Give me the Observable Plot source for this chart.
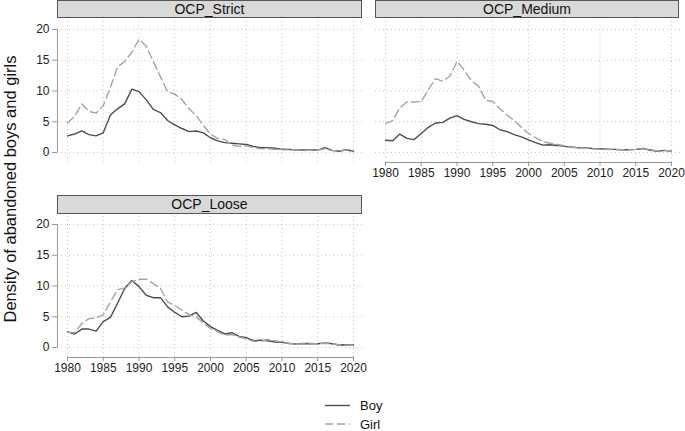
<!DOCTYPE html>
<html>
<head>
<meta charset="utf-8">
<script src="https://cdn.jsdelivr.net/npm/d3@7"></script>
<script src="https://cdn.jsdelivr.net/npm/@observablehq/plot@0.6"></script>
<style>
  html, body { margin: 0; padding: 0; background: #fff; }
  #wrap { position: relative; width: 685px; height: 431px; font-family: "Liberation Sans", Arial, sans-serif; overflow: hidden; }
  .strip { position: absolute; box-sizing: border-box; background: #d9d9d9; border: 1px solid #555; font-size: 14px; color: #111; text-align: center; line-height: 16px; }
  .panel { position: absolute; }
  #ylab { position: absolute; left: 10px; top: 189px; transform: translate(-50%, -50%) rotate(-90deg); white-space: nowrap; font-size: 16.5px; color: #111; }
  #legend { position: absolute; left: 320px; top: 396px; }
</style>
</head>
<body>
<div id="wrap">
  <div id="ylab">Density of abandoned boys and girls</div>
</div>
<script>
const years = d3.range(1980, 2021);
const xTicks = [1980, 1985, 1990, 1995, 2000, 2005, 2010, 2015, 2020];
const yTicks = [0, 5, 10, 15, 20];
const panelNames = ["OCP_Strict", "OCP_Medium", "OCP_Loose"];
const seriesNames = ["Boy", "Girl"];

const strictBoy = [2.7, 3.0, 3.5, 2.9, 2.7, 3.2, 6.1, 7.1, 7.9, 10.3, 9.9, 8.6, 7.0, 6.5, 5.2, 4.5, 3.9, 3.4, 3.5, 3.2, 2.4, 1.9, 1.6, 1.5, 1.4, 1.3, 1.0, 0.8, 0.8, 0.7, 0.5, 0.5, 0.4, 0.4, 0.4, 0.4, 0.8, 0.35, 0.2, 0.45, 0.2];
const strictGirl = [4.8, 5.9, 7.9, 6.7, 6.4, 7.6, 10.6, 13.9, 14.8, 16.3, 18.4, 17.3, 14.8, 12.3, 9.9, 9.5, 8.6, 7.1, 6.0, 4.4, 3.0, 2.3, 2.1, 1.2, 1.0, 1.1, 0.8, 0.6, 0.6, 0.5, 0.6, 0.5, 0.4, 0.3, 0.4, 0.4, 0.6, 0.3, 0.3, 0.4, 0.3];
const mediumBoy = [2.0, 1.9, 3.0, 2.3, 2.1, 3.1, 4.1, 4.8, 4.9, 5.6, 6.0, 5.4, 5.0, 4.7, 4.6, 4.4, 3.7, 3.4, 2.9, 2.55, 2.05, 1.6, 1.2, 1.25, 1.15, 1.0, 0.9, 0.75, 0.75, 0.65, 0.6, 0.55, 0.5, 0.45, 0.45, 0.5, 0.65, 0.4, 0.2, 0.35, 0.2];
const mediumGirl = [4.7, 5.2, 7.3, 8.2, 8.2, 8.3, 10.2, 12.0, 11.6, 12.4, 14.8, 13.4, 11.7, 10.8, 8.5, 8.3, 7.1, 6.1, 5.2, 4.1, 3.1, 2.4, 1.8, 1.5, 1.3, 1.1, 0.9, 0.75, 0.7, 0.6, 0.55, 0.5, 0.45, 0.45, 0.45, 0.5, 0.6, 0.4, 0.25, 0.35, 0.2];
const looseBoy = [2.55, 2.2, 3.0, 3.0, 2.65, 4.2, 4.9, 7.2, 9.6, 10.9, 9.9, 8.5, 8.1, 8.1, 6.6, 5.7, 5.0, 5.1, 5.7, 4.3, 3.4, 2.8, 2.2, 2.4, 1.8, 1.6, 1.1, 1.2, 1.1, 0.9, 0.85, 0.65, 0.55, 0.65, 0.6, 0.6, 0.75, 0.6, 0.4, 0.45, 0.4];
const looseGirl = [2.5, 2.4, 3.9, 4.7, 4.8, 5.3, 7.4, 9.4, 9.7, 10.7, 11.1, 11.1, 10.4, 9.6, 7.4, 6.8, 6.1, 5.3, 5.0, 4.0, 3.1, 2.6, 2.0, 2.1, 1.7, 1.4, 1.0, 1.0, 1.3, 1.1, 0.9, 0.7, 0.5, 0.6, 0.7, 0.6, 0.7, 0.6, 0.4, 0.4, 0.35];

const BOY_COLOR = "#4d4d4d";
const GIRL_COLOR = "#a3a3a3";
const GIRL_DASH = "8,4";

function toRows(vals) { return years.map((yr, i) => ({year: yr, value: vals[i]})); }

function panel(boy, girl, showX, showY) {
  const marks = [
    Plot.gridX(xTicks, {stroke: "#c4c4c4", strokeOpacity: 1, strokeDasharray: "1,3"}),
    Plot.gridY(yTicks, {stroke: "#c4c4c4", strokeOpacity: 1, strokeDasharray: "1,3"}),
    Plot.line(toRows(boy), {x: "year", y: "value", stroke: BOY_COLOR, strokeWidth: 1.4}),
    Plot.line(toRows(girl), {x: "year", y: "value", stroke: GIRL_COLOR, strokeWidth: 1.4, strokeDasharray: GIRL_DASH})
  ];
  if (showY) {
    marks.push(Plot.ruleX([1980], {y1: 0, y2: 20, dx: -10, stroke: "#999"}));
    marks.push(Plot.axisY(yTicks, {tickSize: 5, tickPadding: 3, label: null, stroke: "#999", fill: "#222", fontSize: 12}));
  }
  if (showX) {
    marks.push(Plot.ruleY([0], {x1: 1980, x2: 2020, dy: 10, stroke: "#999"}));
    marks.push(Plot.axisX(xTicks, {tickSize: 4, tickPadding: 2, label: null, stroke: "#999", fill: "#222", fontSize: 12, tickFormat: d => String(d)}));
  }
  return Plot.plot({
    width: 365,
    height: 170,
    marginLeft: 57,
    marginRight: 3,
    marginTop: 3,
    marginBottom: 26,
    x: {domain: [1980, 2020], insetLeft: 10, insetRight: 9, axis: null},
    y: {domain: [0, 20], insetTop: 8, insetBottom: 10, axis: null},
    style: {fontFamily: "'Liberation Sans', Arial, sans-serif", fontSize: "12px", background: "transparent", overflow: "visible"},
    marks
  });
}

const wrap = document.getElementById("wrap");
function place(el, left, top) {
  el.classList.add("panel");
  el.style.left = left + "px";
  el.style.top = top + "px";
  wrap.appendChild(el);
}
function strip(text, left, top, width, height) {
  const d = document.createElement("div");
  d.className = "strip";
  d.textContent = text;
  d.style.left = left + "px";
  d.style.top = top + "px";
  d.style.width = width + "px";
  d.style.height = height + "px";
  d.style.lineHeight = (height - 2) + "px";
  wrap.appendChild(d);
}

place(panel(strictBoy, strictGirl, false, true), 0, 18);
place(panel(mediumBoy, mediumGirl, true, false), 318, 18);
place(panel(looseBoy, looseGirl, true, true), 0, 213);

strip(panelNames[0], 57, 0, 305, 18);
strip(panelNames[1], 375, 0, 304, 18);
strip(panelNames[2], 57, 195, 305, 19);

// legend
const ns = "http://www.w3.org/2000/svg";
const lg = document.createElementNS(ns, "svg");
lg.setAttribute("id", "legend");
lg.setAttribute("width", "90");
lg.setAttribute("height", "35");
[[BOY_COLOR, null], [GIRL_COLOR, GIRL_DASH]].forEach(([c, dash], i) => {
  const y = 9.5 + i * 18.5;
  const ln = document.createElementNS(ns, "line");
  ln.setAttribute("x1", 5); ln.setAttribute("x2", 30);
  ln.setAttribute("y1", y); ln.setAttribute("y2", y);
  ln.setAttribute("stroke", c); ln.setAttribute("stroke-width", 1.4);
  if (dash) ln.setAttribute("stroke-dasharray", dash);
  lg.appendChild(ln);
  const t = document.createElementNS(ns, "text");
  t.setAttribute("x", 40); t.setAttribute("y", y + 4.5);
  t.setAttribute("font-size", "13px");
  t.setAttribute("font-family", "'Liberation Sans', Arial, sans-serif");
  t.setAttribute("fill", "#111");
  t.textContent = seriesNames[i];
  lg.appendChild(t);
});
wrap.appendChild(lg);
</script>
</body>
</html>
